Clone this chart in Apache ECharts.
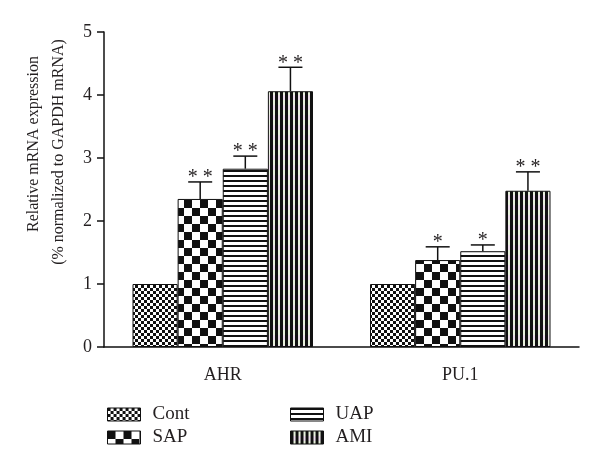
<!DOCTYPE html>
<html>
<head>
<meta charset="utf-8">
<script src="https://cdn.jsdelivr.net/npm/echarts@6/dist/echarts.min.js"></script>
<style>html,body{margin:0;padding:0;background:#fff}#c{width:600px;height:471px}</style>
</head>
<body>
<div id="c"></div>
<script>
var categories = ['AHR', 'PU.1'];
var seriesNames = ['Cont', 'SAP', 'UAP', 'AMI'];
var contValues = [1.0, 1.0];
var sapValues = [2.35, 1.38];
var uapValues = [2.83, 1.52];
var amiValues = [4.06, 2.48];
var contErr = [0, 0];
var sapErr = [0.27, 0.21];
var uapErr = [0.20, 0.10];
var amiErr = [0.38, 0.30];
var sapMarks = ['* *', '*'];
var uapMarks = ['* *', '*'];
var amiMarks = ['* *', '* *'];
var contMarks = ['', ''];
var yTicks = [0, 1, 2, 3, 4, 5];

var FONT = '"Liberation Serif", "DejaVu Serif", serif';
var INK = '#231f20';

function makeCanvas(w, h, draw) {
  var c = document.createElement('canvas');
  c.width = w; c.height = h;
  var ctx = c.getContext('2d');
  ctx.fillStyle = '#fff'; ctx.fillRect(0, 0, w, h);
  draw(ctx);
  return c;
}
var patCont = makeCanvas(6, 6, function (ctx) {
  ctx.fillStyle = '#111';
  ctx.fillRect(0, 0, 3, 3); ctx.fillRect(3, 3, 3, 3);
});
var patSap = makeCanvas(16, 16, function (ctx) {
  ctx.fillStyle = '#111';
  ctx.fillRect(0, 0, 8, 8); ctx.fillRect(8, 8, 8, 8);
});
var patUap = makeCanvas(5, 5, function (ctx) {
  ctx.fillStyle = '#111';
  ctx.fillRect(0, 0, 5, 2);
});
var patAmi = makeCanvas(5, 10, function (ctx) {
  ctx.fillStyle = '#e8f2dc'; ctx.fillRect(0, 0, 5, 10);
  ctx.fillStyle = '#ecdcec'; ctx.fillRect(3, 5, 2, 5);
  ctx.fillStyle = '#111';
  ctx.fillRect(0, 0, 3, 10);
});
var patterns = [patCont, patSap, patUap, patAmi];
var values = [contValues, sapValues, uapValues, amiValues];
var errs = [contErr, sapErr, uapErr, amiErr];
var marks = [contMarks, sapMarks, uapMarks, amiMarks];

var GAP = 0.24;
var series = [];
seriesNames.forEach(function (name, i) {
  series.push({
    name: name,
    type: 'bar',
    data: values[i],
    barGap: '0%',
    barCategoryGap: (GAP * 100) + '%',
    itemStyle: {
      color: { image: patterns[i], repeat: 'repeat' },
      borderColor: '#111',
      borderWidth: 1
    },
    emphasis: { disabled: true },
    silent: true
  });
});
seriesNames.forEach(function (name, i) {
  var d = categories.map(function (c, k) { return [k, values[i][k], errs[i][k]]; });
  series.push({
    type: 'custom',
    name: name + ' err',
    silent: true,
    data: d,
    z: 5,
    renderItem: function (params, api) {
      var k = api.value(0);
      var v = api.value(1);
      var e = api.value(2);
      var mark = marks[i][k];
      var base = api.coord([k, v]);
      var band = api.size([1, 0])[0];
      var bw = band * (1 - GAP) / 4;
      var cx = base[0] - 2 * bw + (i + 0.5) * bw;
      var top = api.coord([k, v + e])[1];
      var children = [];
      if (e > 0) {
        children.push({ type: 'line', shape: { x1: cx, y1: base[1], x2: cx, y2: top }, style: { stroke: '#111', lineWidth: 1.5 } });
        children.push({ type: 'line', shape: { x1: cx - 12, y1: top, x2: cx + 12, y2: top }, style: { stroke: '#111', lineWidth: 1.5 } });
      }
      if (mark) {
        children.push({ type: 'text', style: { x: cx, y: top + 6, text: mark, textAlign: 'center', textVerticalAlign: 'bottom', font: '20px ' + FONT, fill: INK } });
      }
      return { type: 'group', children: children };
    }
  });
});

var legendCommon = {
  orient: 'vertical', top: 400,
  icon: 'rect', itemWidth: 33, itemHeight: 13, itemGap: 4, selectedMode: false,
  textStyle: { color: INK, fontFamily: FONT, fontSize: 19, padding: [0, 0, 0, 7] },
  itemStyle: { borderColor: '#111', borderWidth: 1 }
};

var chart = echarts.init(document.getElementById('c'), null, { renderer: 'canvas' });
chart.setOption({
  animation: false,
  backgroundColor: '#fff',
  grid: { left: 104, right: 21, top: 32, bottom: 124, containLabel: false },
  xAxis: {
    type: 'category',
    data: categories,
    axisLine: { lineStyle: { color: '#111', width: 1.5 } },
    axisTick: { alignWithLabel: true, length: 8, lineStyle: { color: '#111', width: 1.5 } },
    axisLabel: { color: INK, fontFamily: FONT, fontSize: 18, margin: 19 }
  },
  yAxis: {
    type: 'value',
    min: yTicks[0],
    max: yTicks[yTicks.length - 1],
    interval: 1,
    axisLine: { show: true, lineStyle: { color: '#111', width: 1.5 } },
    axisTick: { show: true, length: 7, lineStyle: { color: '#111', width: 1.5 } },
    axisLabel: { color: INK, fontFamily: FONT, fontSize: 18, margin: 12 },
    splitLine: { show: false }
  },
  legend: [
    Object.assign({ data: ['Cont', 'SAP'], left: 102 }, legendCommon),
    Object.assign({ data: ['UAP', 'AMI'], left: 285 }, legendCommon)
  ],
  graphic: [
    { type: 'text', x: 34, y: 144, rotation: Math.PI / 2, style: { text: 'Relative mRNA expression', textAlign: 'center', textVerticalAlign: 'middle', font: '16px ' + FONT, fill: INK } },
    { type: 'text', x: 59, y: 152, rotation: Math.PI / 2, style: { text: '(% normalized to GAPDH mRNA)', textAlign: 'center', textVerticalAlign: 'middle', font: '16px ' + FONT, fill: INK } }
  ],
  series: series
});
</script>
</body>
</html>
